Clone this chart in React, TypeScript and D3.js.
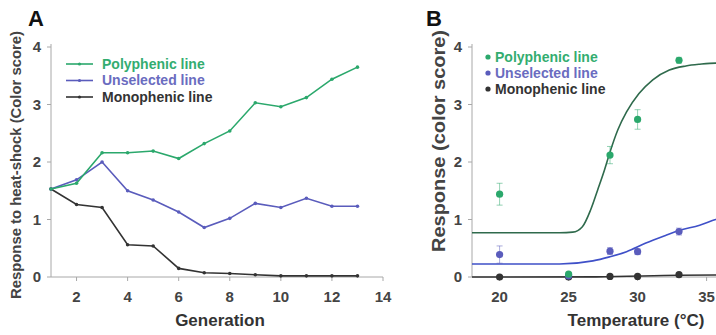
import * as d3 from "d3";

// Panel A: response across generations
const generations = [1, 2, 3, 4, 5, 6, 7, 8, 9, 10, 11, 12, 13];
const polyphenicA = [1.53, 1.63, 2.16, 2.16, 2.19, 2.06, 2.32, 2.54, 3.03, 2.96, 3.12, 3.44, 3.65];
const unselectedA = [1.53, 1.69, 2.0, 1.5, 1.34, 1.13, 0.86, 1.02, 1.28, 1.21, 1.37, 1.23, 1.23];
const monophenicA = [1.53, 1.26, 1.21, 0.56, 0.54, 0.15, 0.075, 0.06, 0.04, 0.02, 0.02, 0.02, 0.02];
const genTicks = [2, 4, 6, 8, 10, 12, 14];

// Panel B: reaction norms against temperature
const temperatures = [20, 25, 28, 30, 33];
const polyphenicB = [1.44, 0.05, 2.12, 2.74, 3.77];
const polyphenicErr = [0.19, 0.03, 0.15, 0.17, 0.05];
const unselectedB = [0.39, 0.02, 0.45, 0.44, 0.79];
const unselectedErr = [0.15, 0.02, 0.06, 0.05, 0.06];
const monophenicB = [0.0, 0.0, 0.01, 0.01, 0.04];
const tempTicks = [20, 25, 30, 35];

// fitted curves
const polyFitT = [18, 24.35, 25.3, 26.0, 26.6, 27.1, 27.6, 27.97, 28.57, 29.2, 30.1, 31.1, 32.3, 33.5, 34.5, 35.65, 36.5];
const polyFit = [0.77, 0.77, 0.78, 0.875, 1.17, 1.51, 1.86, 2.15, 2.56, 2.87, 3.19, 3.43, 3.6, 3.67, 3.7, 3.72, 3.72];
const unselFitT = [18, 24.35, 26.76, 27.97, 29.2, 30.6, 32.1, 33.0, 34.5, 35.65, 36.5];
const unselFit = [0.226, 0.226, 0.28, 0.35, 0.44, 0.59, 0.73, 0.81, 0.9, 1.0, 1.06];
const monoFitT = [18, 27, 33, 36.5];
const monoFit = [0, 0.003, 0.03, 0.035];

const yTicks = [0, 1, 2, 3, 4];
const legendLabels = ["Polyphenic line", "Unselected line", "Monophenic line"];
const lineColors = ["#2ba86c", "#5a5cbc", "#333333"];
const textColors = ["#33ad70", "#6a6cc0", "#333333"];
const fitColors = ["#2f6a4c", "#3f50c8", "#333333"];

const FONT = "'Liberation Sans', Arial, sans-serif";
const AXIS = "#a8a8a8";

export default function App() {
  const width = 716;
  const height = 335;

  const y = d3.scaleLinear().domain([0, 4]).range([277, 47]);
  const xA = d3.scaleLinear().domain([1, 14]).range([51, 383]);
  const xB = d3.scaleLinear().domain([18, 36]).range([472, 720.4]);

  const lineA = d3
    .line<number>()
    .x((_, i) => xA(generations[i]))
    .y((d) => y(d));
  const seriesA = [polyphenicA, unselectedA, monophenicA];

  const fitLine = (ts: number[]) =>
    d3
      .line<number>()
      .x((_, i) => xB(ts[i]))
      .y((d) => y(d))
      .curve(d3.curveMonotoneX);

  const fits = [
    { t: polyFitT, v: polyFit },
    { t: unselFitT, v: unselFit },
    { t: monoFitT, v: monoFit },
  ];
  const pointsB = [
    { v: polyphenicB, e: polyphenicErr },
    { v: unselectedB, e: unselectedErr },
    { v: monophenicB, e: monophenicB.map(() => 0) },
  ];

  const tickText = { fontFamily: FONT, fontSize: 15, fontWeight: 700, fill: "#444" } as const;

  return (
    <div style={{ position: "absolute", left: 0, top: 0 }}>
      <svg width={width} height={height} style={{ display: "block", background: "#fff" }}>
        {/* ---------- Panel A ---------- */}
        <text x={28} y={26} fontFamily={FONT} fontSize={22} fontWeight={700} fill="#111">A</text>
        <line x1={xA(1)} x2={xA(1)} y1={y(4) - 3} y2={y(0)} stroke={AXIS} />
        <line x1={xA(1)} x2={xA(14)} y1={y(0)} y2={y(0)} stroke={AXIS} />
        {yTicks.map((t) => (
          <g key={"ya" + t}>
            <line x1={xA(1) - 4} x2={xA(1)} y1={y(t)} y2={y(t)} stroke={AXIS} />
            <text x={xA(1) - 10} y={y(t)} dy="0.35em" textAnchor="end" {...tickText}>{t}</text>
          </g>
        ))}
        {genTicks.map((t) => (
          <g key={"xa" + t}>
            <line x1={xA(t)} x2={xA(t)} y1={y(0)} y2={y(0) + 4} stroke={AXIS} />
            <text x={xA(t)} y={y(0) + 25} textAnchor="middle" {...tickText}>{t}</text>
          </g>
        ))}
        <text x={220} y={326} textAnchor="middle" fontFamily={FONT} fontSize={17} fontWeight={700} fill="#333">Generation</text>
        <text
          transform={`translate(21,165) rotate(-90)`}
          textAnchor="middle"
          fontFamily={FONT}
          fontSize={14}
          fontWeight={700}
          fill="#444"
          textLength={268}
          lengthAdjust="spacingAndGlyphs"
        >
          Response to heat-shock (Color score)
        </text>

        {seriesA
          .slice()
          .reverse()
          .map((s, ri) => {
            const i = seriesA.length - 1 - ri;
            return (
              <g key={"sa" + i}>
                <path d={lineA(s) ?? ""} fill="none" stroke={lineColors[i]} strokeWidth={1.6} />
                {s.map((v, j) => (
                  <circle key={j} cx={xA(generations[j])} cy={y(v)} r={1.8} fill={lineColors[i]} />
                ))}
              </g>
            );
          })}

        {legendLabels.map((l, i) => (
          <g key={"la" + i} transform={`translate(66,${64 + i * 16.5})`}>
            <line x1={0} x2={27} y1={0} y2={0} stroke={lineColors[i]} strokeWidth={1.6} />
            <circle cx={13.5} cy={0} r={1.6} fill={lineColors[i]} />
            <text x={36} y={0} dy="0.35em" fontFamily={FONT} fontSize={14} fontWeight={700} fill={textColors[i]}>{l}</text>
          </g>
        ))}

        {/* ---------- Panel B ---------- */}
        <text x={426} y={26} fontFamily={FONT} fontSize={22} fontWeight={700} fill="#111">B</text>
        <line x1={xB(18)} x2={xB(18)} y1={y(4) - 3} y2={y(0)} stroke={AXIS} />
        <line x1={xB(18)} x2={xB(36)} y1={y(0)} y2={y(0)} stroke={AXIS} />
        {yTicks.map((t) => (
          <g key={"yb" + t}>
            <line x1={xB(18) - 4} x2={xB(18)} y1={y(t)} y2={y(t)} stroke={AXIS} />
            <text x={xB(18) - 10} y={y(t)} dy="0.35em" textAnchor="end" {...tickText}>{t}</text>
          </g>
        ))}
        {tempTicks.map((t) => (
          <g key={"xb" + t}>
            <line x1={xB(t)} x2={xB(t)} y1={y(0)} y2={y(0) + 4} stroke={AXIS} />
            <text x={xB(t)} y={y(0) + 25} textAnchor="middle" {...tickText}>{t}</text>
          </g>
        ))}
        <text x={636} y={326} textAnchor="middle" fontFamily={FONT} fontSize={17} fontWeight={700} fill="#333">Temperature (°C)</text>
        <text
          transform={`translate(445,141) rotate(-90)`}
          textAnchor="middle"
          fontFamily={FONT}
          fontSize={18}
          fontWeight={700}
          fill="#444"
          textLength={222}
          lengthAdjust="spacingAndGlyphs"
        >
          Response (color score)
        </text>

        {fits
          .slice()
          .reverse()
          .map((f, ri) => {
            const i = fits.length - 1 - ri;
            return <path key={"fit" + i} d={fitLine(f.t)(f.v) ?? ""} fill="none" stroke={fitColors[i]} strokeWidth={1.6} />;
          })}

        {pointsB
          .slice()
          .reverse()
          .map((p, ri) => {
            const i = pointsB.length - 1 - ri;
            return (
              <g key={"pb" + i}>
                {p.v.map((v, j) =>
                  p.e[j] > 0.04 ? (
                    <g key={"e" + j} stroke={lineColors[i]} strokeOpacity={0.5} strokeWidth={1}>
                      <line x1={xB(temperatures[j])} x2={xB(temperatures[j])} y1={y(v - p.e[j])} y2={y(v + p.e[j])} />
                      <line x1={xB(temperatures[j]) - 3} x2={xB(temperatures[j]) + 3} y1={y(v - p.e[j])} y2={y(v - p.e[j])} />
                      <line x1={xB(temperatures[j]) - 3} x2={xB(temperatures[j]) + 3} y1={y(v + p.e[j])} y2={y(v + p.e[j])} />
                    </g>
                  ) : null
                )}
                {p.v.map((v, j) => (
                  <circle key={"c" + j} cx={xB(temperatures[j])} cy={y(v)} r={3.6} fill={lineColors[i]} />
                ))}
              </g>
            );
          })}

        {legendLabels.map((l, i) => (
          <g key={"lb" + i} transform={`translate(488,${57 + i * 16})`}>
            <circle cx={0} cy={0} r={2.6} fill={lineColors[i]} />
            <text x={7} y={0} dy="0.35em" fontFamily={FONT} fontSize={14} fontWeight={700} fill={textColors[i]}>{l}</text>
          </g>
        ))}
      </svg>
    </div>
  );
}
